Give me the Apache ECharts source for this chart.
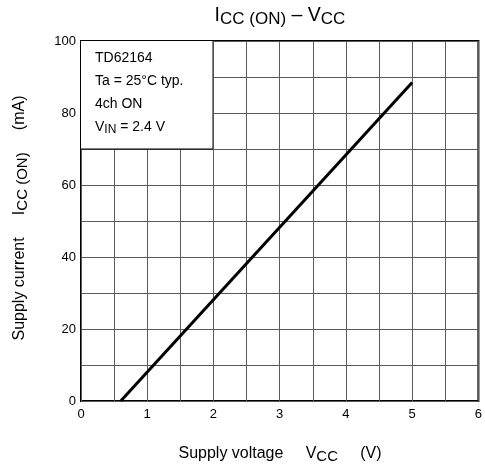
<!DOCTYPE html>
<html><head><meta charset="utf-8">
<script src="https://cdn.jsdelivr.net/npm/echarts@6/dist/echarts.min.js"></script>
<style>html,body{margin:0;padding:0;background:#fff}#c{width:485px;height:470px}</style>
</head><body><div id="c"></div>
<script>
const vcc = [0.6, 5.0];
const icc = [0, 88.5];
const xTicks = [0, 1, 2, 3, 4, 5, 6];
const yTicks = [0, 20, 40, 60, 80, 100];
const legendLines = ['TD62164', 'Ta = 25°C typ.', '4ch ON'];

const FONT = 'Liberation Sans, Arial, sans-serif';
const chart = echarts.init(document.getElementById('c'), null, {renderer: 'canvas'});
function rt(main, subSize, pad) {
  return {n: {fontSize: main, fontFamily: FONT, color: '#000'},
          s: {fontSize: subSize, fontFamily: FONT, color: '#000', padding: [pad, 0, 0, 0]}};
}
chart.setOption({
  animation: false,
  grid: {left: 81, right: 4, top: 41, bottom: 69, show: true, borderColor: '#000', borderWidth: 2, backgroundColor: 'transparent'},
  xAxis: {
    type: 'value', min: 0, max: 6, interval: 0.5,
    axisLine: {show: false}, axisTick: {show: false},
    splitLine: {show: true, lineStyle: {color: '#5a5a5a', width: 1}},
    axisLabel: {fontFamily: FONT, fontSize: 13, color: '#000', margin: 7,
      formatter: v => xTicks.includes(v) ? String(v) : ''}
  },
  yAxis: {
    type: 'value', min: 0, max: 100, interval: 10,
    axisLine: {show: false}, axisTick: {show: false},
    splitLine: {show: true, lineStyle: {color: '#5a5a5a', width: 1}},
    axisLabel: {fontFamily: FONT, fontSize: 13, color: '#000', margin: 5,
      formatter: v => yTicks.includes(v) ? String(v) : ''}
  },
  series: [
    {type: 'line', data: [], markArea: {silent: true, itemStyle: {color: '#fff', opacity: 1},
      data: [[{coord: [0, 70]}, {coord: [2, 100]}]]}, z: 3},
    {type: 'line', data: vcc.map((v, i) => [v, icc[i]]), symbol: 'none',
      lineStyle: {color: '#000', width: 3}, z: 5}
  ],
  graphic: [
    {type: 'line', shape: {x1: 213, y1: 41, x2: 213, y2: 149}, style: {stroke: '#000', lineWidth: 1}, z: 100},
    {type: 'line', shape: {x1: 81, y1: 149, x2: 213, y2: 149}, style: {stroke: '#000', lineWidth: 1}, z: 100},
    ...legendLines.map((t, i) => ({type: 'text', x: 95, y: 58 + i * 23, z: 100,
      style: {text: t, fontFamily: FONT, fontSize: 14, fill: '#000', verticalAlign: 'middle'}})),
    {type: 'text', x: 95, y: 119, z: 100,
      style: {text: '{n|V}{s|IN}{n| = 2.4 V}', verticalAlign: 'top', rich: rt(14, 12, 5)}},
    {type: 'text', x: 280, y: 3, z: 100,
      style: {text: '{n|I}{s|CC (ON)}{n| – V}{s|CC}', align: 'center', verticalAlign: 'top', rich: rt(19.5, 17, 8)}},
    {type: 'text', x: 280, y: 443, z: 100,
      style: {text: '{n|Supply voltage     V}{s|CC}{n|     (V)}', align: 'center', verticalAlign: 'top', rich: rt(16, 15, 6)}},
    {type: 'text', x: 9, y: 218, rotation: Math.PI / 2, z: 100,
      style: {text: '{n|Supply current     I}{s|CC (ON)}{n|     (mA)}', align: 'center', verticalAlign: 'top', rich: rt(16, 15, 6)}}
  ]
});
</script></body></html>
